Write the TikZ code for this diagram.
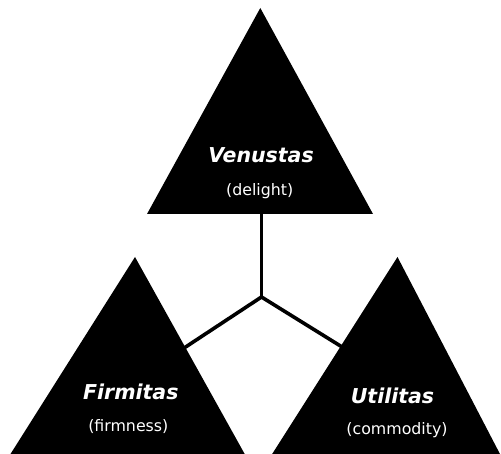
\documentclass[tikz,border=0pt]{standalone}
\usepackage{fontspec}
\setmainfont{DejaVu Sans}[BoldFont={DejaVu Sans Bold},ItalicFont={DejaVu Sans Oblique},BoldItalicFont={DejaVu Sans Bold Oblique}]
\begin{document}
\begin{tikzpicture}[x=1pt,y=-1pt,
  tri/.style={fill=black},
  link/.style={draw=black,line width=3.6pt},
  title/.style={text=white,font=\fontsize{20.5}{24}\selectfont\bfseries\itshape,anchor=base,inner sep=0pt},
  sub/.style={text=white,font=\fontsize{15.8}{19}\selectfont,anchor=base,inner sep=0pt}]
\useasboundingbox (0,0) rectangle (501,454);
% connectors
\coordinate (hub) at (261.5,297);
\coordinate (vb) at (261.5,210);
\coordinate (fe) at (183.5,348.4);
\coordinate (ue) at (344.2,348.3);
\draw[link] (fe) -- (hub) -- (ue);
\draw[link] (hub) -- (vb);
% triangles
\begin{scope}
  \clip (0,0) rectangle (501,454);
  \fill[tri] (260.3,8) -- (373,214) -- (147,214) -- cycle;
  \fill[tri] (135,257) -- (253.6,470) -- (0.4,470) -- cycle;
  \fill[tri] (397.5,257) -- (508.3,470) -- (262,470) -- cycle;
\end{scope}
% labels
\node[title] (ven) at (261,162.3) {Venustas};
\node[sub] (del) at (259.7,196) {(delight)};
\node[title] (fir) at (130.8,399.5) {Firmitas};
\node[sub] (fmn) at (128.3,431.7) {(firmness)};
\node[title] (uti) at (392.5,403.3) {Utilitas};
\node[sub] (com) at (397,434.5) {(commodity)};
\end{tikzpicture}
\end{document}
